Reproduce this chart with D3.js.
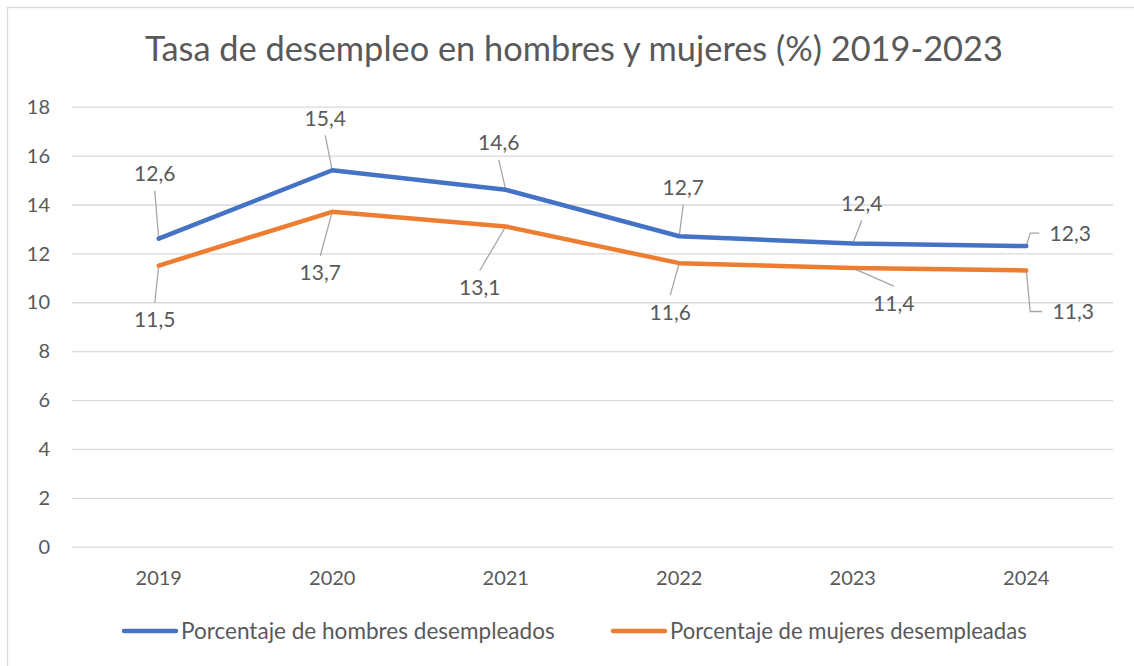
<!DOCTYPE html>
<html>
<head>
<meta charset="utf-8">
<script src="https://cdn.jsdelivr.net/npm/d3@7"></script>
<style>
  body { margin: 0; background: #fff; }
  text { font-family: Lato, "Open Sans", sans-serif; fill: #595959; }
</style>
</head>
<body>
<svg id="chart"></svg>
<script>
// data
const years = ["2019", "2020", "2021", "2022", "2023", "2024"];
const hombres = [12.6, 15.4, 14.6, 12.7, 12.4, 12.3];
const mujeres = [11.5, 13.7, 13.1, 11.6, 11.4, 11.3];
const yTicks = [0, 2, 4, 6, 8, 10, 12, 14, 16, 18];
const seriesNames = ["Porcentaje de hombres desempleados", "Porcentaje de mujeres desempleadas"];
const titleText = "Tasa de desempleo en hombres y mujeres (%) 2019-2023";

// label placement relative to each point (layout only)
const offsH = [[-4, -65], [-7, -52], [-7, -47], [4, -49], [9, -40], [44, -13]];
const offsM = [[-4, 54], [-12, 61], [-26, 61], [-9, 49], [41, 35], [47, 41]];

const W = 1134, H = 666;
const margin = {top: 106, right: 21, bottom: 120, left: 72};
const blue = "#4472C4", orange = "#ED7D31";

const svg = d3.select('#chart')
	.attr('width', W)
	.attr('height', H);

// chart area border (cropped at right and bottom in the picture)
svg.append('rect')
	.attr('x', 7.5).attr('y', 7.5)
	.attr('width', 1140).attr('height', 670)
	.attr('fill', '#fff')
	.attr('stroke', '#d9d9d9')
	.attr('stroke-width', 1.3);

const x = d3.scalePoint()
	.domain(years)
	.range([margin.left, W - margin.right])
	.padding(0.5);

const y = d3.scaleLinear()
	.domain([0, 18])
	.range([546.7, 106.7]);

// fit a text's font size to a width
function fit(sel, width) {
	const len = sel.node().getComputedTextLength();
	const fs = parseFloat(sel.attr('font-size'));
	sel.attr('font-size', fs * width / len);
}

// title
const title = svg.append('text')
	.attr('x', 574).attr('y', 61)
	.attr('text-anchor', 'middle')
	.attr('font-size', 28)
	.text(titleText);
fit(title, 858);

// grid
const grid = svg.append('g')
	.attr('transform', `translate(${margin.left},0)`)
	.call(d3.axisLeft(y).tickValues(yTicks).tickSize(-(W - margin.left - margin.right)).tickFormat(''));
grid.select('.domain').remove();
grid.selectAll('line').attr('stroke', '#d9d9d9').attr('stroke-width', 1.3);

// y labels
svg.append('g').selectAll('text')
	.data(yTicks)
	.enter().append('text')
	.attr('x', 50)
	.attr('y', d => y(d))
	.attr('dy', '0.36em')
	.attr('text-anchor', 'end')
	.attr('font-size', 20)
	.text(d => d);

// x labels
svg.append('g').selectAll('text')
	.data(years)
	.enter().append('text')
	.attr('x', d => x(d))
	.attr('y', 578)
	.attr('dy', '0.36em')
	.attr('text-anchor', 'middle')
	.attr('font-size', 20)
	.text(d => d);

const line = d3.line()
	.x((d, i) => x(years[i]))
	.y(d => y(d));

function drawSeries(vals, color, offs) {
	const fmt = v => String(v).replace('.', ',');
	// leader lines
	const g = svg.append('g');
	vals.forEach((v, i) => {
		const px = x(years[i]), py = y(v);
		const cx = px + offs[i][0], cy = py + offs[i][1];
		let pts;
		if (Math.abs(offs[i][0]) > 40 && i === vals.length - 1) {
			pts = [[px, py], [px + 4, cy], [cx - 31, cy]];
		} else {
			const ey = cy + (offs[i][1] < 0 ? 17 : -17);
			pts = [[px, py], [cx, ey]];
		}
		g.append('path')
			.attr('d', d3.line()(pts))
			.attr('fill', 'none')
			.attr('stroke', '#a6a6a6')
			.attr('stroke-width', 1.3);
	});
	svg.append('path')
		.datum(vals)
		.attr('d', line)
		.attr('fill', 'none')
		.attr('stroke', color)
		.attr('stroke-width', 4.5)
		.attr('stroke-linejoin', 'round')
		.attr('stroke-linecap', 'round');
	svg.append('g').selectAll('text')
		.data(vals)
		.enter().append('text')
		.attr('x', (d, i) => x(years[i]) + offs[i][0])
		.attr('y', (d, i) => y(d) + offs[i][1])
		.attr('dy', '0.36em')
		.attr('text-anchor', 'middle')
		.attr('font-size', 21)
		.text(fmt);
}

drawSeries(hombres, blue, offsH);
drawSeries(mujeres, orange, offsM);

// legend
const legend = [
	{name: seriesNames[0], color: blue, x: 122, w: 374},
	{name: seriesNames[1], color: orange, x: 611, w: 357}
];
legend.forEach(l => {
	svg.append('line')
		.attr('x1', l.x + 2).attr('x2', l.x + 54)
		.attr('y1', 631).attr('y2', 631)
		.attr('stroke', l.color)
		.attr('stroke-width', 4.5)
		.attr('stroke-linecap', 'round');
	const t = svg.append('text')
		.attr('x', l.x + 59).attr('y', 631)
		.attr('dy', '0.36em')
		.attr('font-size', 20)
		.text(l.name);
	fit(t, l.w);
});
</script>
</body>
</html>
